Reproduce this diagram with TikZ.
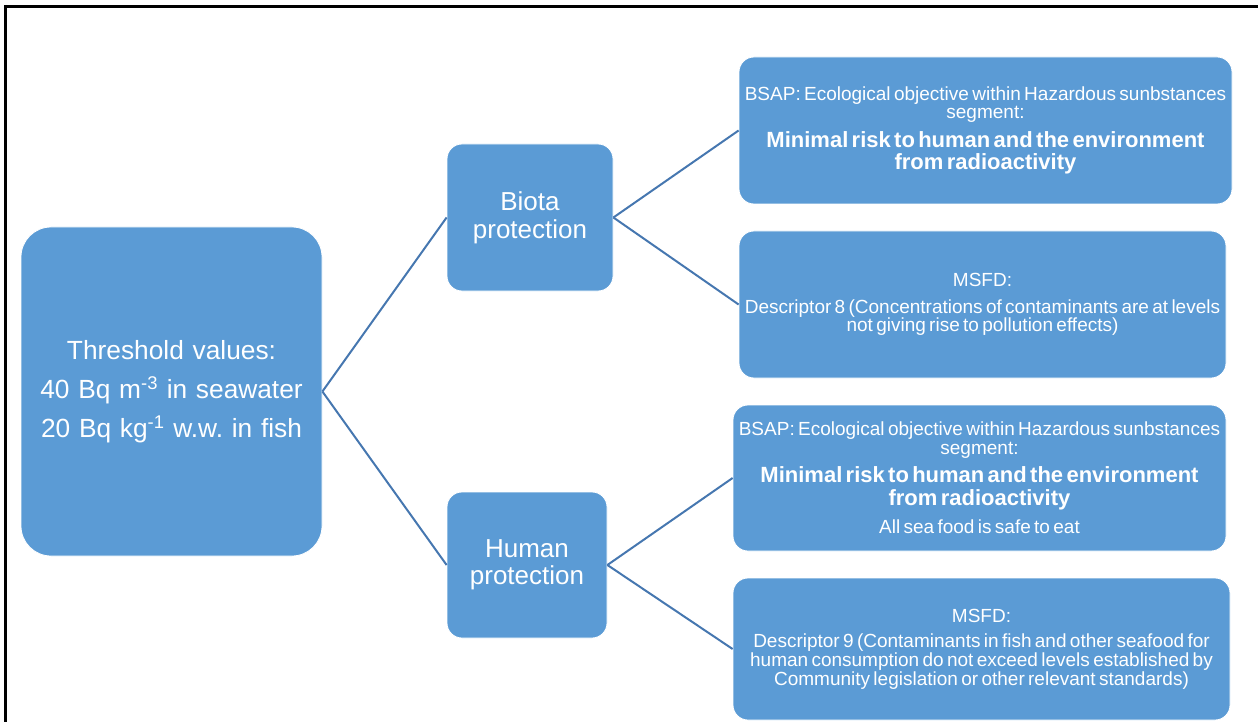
\documentclass[tikz,border=0pt]{standalone}
\usepackage{fontspec}
\setmainfont{Liberation Sans}
\frenchspacing
\definecolor{boxblue}{HTML}{5B9BD5}
\definecolor{linkblue}{HTML}{4677B0}
\newcommand\smallfnt{\fontsize{19}{18.7}\selectfont}
\newcommand\boldfnt{\fontsize{22}{22.5}\selectfont\bfseries}
\begin{document}
\begin{tikzpicture}[x=1pt,y=-1pt,
  box/.style={fill=boxblue, draw=white, line width=0.8pt, text=white,
    align=center, inner sep=0pt, rounded corners=15pt},
  link/.style={draw=linkblue, line width=2pt},
  frame/.style={draw=black, line width=3pt}]
\useasboundingbox (0,0) rectangle (1258,722);
% outer frame (top and left edges only)
\draw[frame] (4,6.5) -- (1258,6.5);
\draw[frame] (5.5,5) -- (5.5,722);

\node[box, minimum width=301pt, minimum height=329pt, rounded corners=30pt,
  text width=297pt, font=\fontsize{26.3}{39}\selectfont] (root) at (171.5,391.5)
  {Threshold values:\\40 Bq m\textsuperscript{-3} in seawater\\20 Bq kg\textsuperscript{-1} w.w. in fish};

\node[box, minimum width=166pt, minimum height=147pt, text width=162pt,
  font=\fontsize{26}{28}\selectfont] (biota) at (530,217.5) {Biota\\protection};
\node[box, minimum width=160pt, minimum height=146pt, text width=156pt,
  font=\fontsize{26}{27.5}\selectfont] (human) at (527,565) {Human\\protection};

\node[box, minimum width=493pt, minimum height=147pt, text width=491pt] (bsapA) at (985.5,130.5)
  {{\smallfnt BSAP: Ecological objective within Hazardous sunbstances\\segment:\par}
   \vspace{6pt}
   {\boldfnt Minimal risk to human and the environment\\from radioactivity\par}};

\node[box, minimum width=487pt, minimum height=147pt, text width=485pt] (msfdB) at (982.5,304.5)
  {{\smallfnt MSFD:\par}
   \vspace{8pt}
   {\smallfnt Descriptor 8 (Concentrations of contaminants are at levels\\not giving rise to pollution effects)\par}};

\node[box, minimum width=493pt, minimum height=146pt, text width=491pt] (bsapC) at (979.5,478)
  {{\smallfnt BSAP: Ecological objective within Hazardous sunbstances\\segment:\par}
   \vspace{6pt}
   {\boldfnt Minimal risk to human and the environment\\from radioactivity\par}
   \vspace{10pt}
   {\smallfnt All sea food is safe to eat\par}};

\node[box, minimum width=497pt, minimum height=142pt, text width=495pt] (msfdD) at (981.5,649)
  {{\smallfnt MSFD:\par}
   \vspace{7pt}
   {\smallfnt Descriptor 9 (Contaminants in fish and other seafood for\\human consumption do not exceed levels established by\\Community legislation or other relevant standards)\par}};

\draw[link] (root.east) -- (biota.west);
\draw[link] (root.east) -- (human.west);
\draw[link] (biota.east) -- (bsapA.west);
\draw[link] (biota.east) -- (msfdB.west);
\draw[link] (human.east) -- (bsapC.west);
\draw[link] (human.east) -- (msfdD.west);
\end{tikzpicture}
\end{document}
